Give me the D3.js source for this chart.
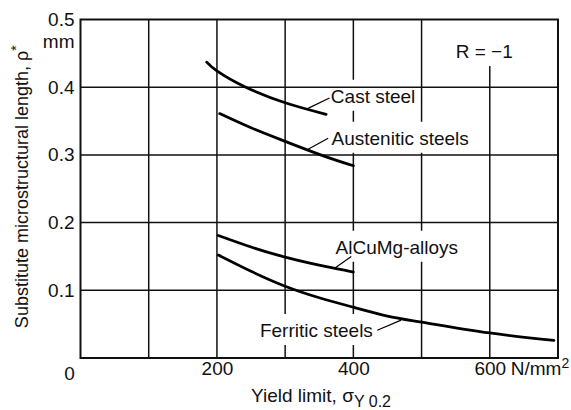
<!DOCTYPE html>
<html>
<head>
<meta charset="utf-8">
<script src="https://cdn.jsdelivr.net/npm/d3@7"></script>
<style>
body{margin:0;background:#fff}
svg{display:block}
text{font-family:"Liberation Sans",Arial,Helvetica,sans-serif;fill:#111}
</style>
</head>
<body>
<svg id="chart" width="571" height="410"></svg>
<script>
// values (x in N/mm², y in mm)
const xTicks=[200,400,600]
const yTicks=[0.1,0.2,0.3,0.4,0.5]
const xGrid=[100,200,300,400,500,600]
const yGrid=[0.1,0.2,0.3,0.4]

const castSteel=[[185,0.437],[200,0.424],[240,0.401],[300,0.377],[360,0.360]]
const austenitic=[[204,0.361],[250,0.340],[300,0.320],[355,0.299],[400,0.284]]
const alcumg=[[202,0.181],[250,0.164],[300,0.149],[355,0.136],[400,0.127]]
const ferritic=[[202,0.152],[250,0.128],[300,0.106],[350,0.089],[400,0.075],[450,0.062],[500,0.053],[600,0.037],[694,0.026]]

const series=[castSteel,austenitic,alcumg,ferritic]
const names=["Cast steel","Austenitic steels","AlCuMg-alloys","Ferritic steels"]
const labelAt=[[367,0.377],[368,0.315],[374,0.154],[263,0.031]]
const leaders=[
[[332,0.368],[365,0.384]],
[[331,0.307],[363,0.3245]],
[[373,0.133],[397,0.150]],
[[435,0.041],[470,0.056]]
]

let svg=d3.select("#chart")
let x=d3.scaleLinear().domain([0,700]).range([80.5,558])
let y=d3.scaleLinear().domain([0,0.5]).range([358,19.5])

let grid=svg.append("g")
let masks=svg.append("g")
let hgrid=svg.append("g")
let marks=svg.append("g")
let texts=svg.append("g")

// vertical grid (gets gaps behind labels)
grid.selectAll("line").data(xGrid).enter().append("line")
.attr("x1",d=>x(d)).attr("x2",d=>x(d))
.attr("y1",y(0.5)).attr("y2",y(0))
.attr("stroke","#111").attr("stroke-width",1.5)

hgrid.selectAll("line").data(yGrid).enter().append("line")
.attr("x1",x(0)).attr("x2",x(700))
.attr("y1",d=>y(d)).attr("y2",d=>y(d))
.attr("stroke","#111").attr("stroke-width",1.5)

hgrid.append("rect")
.attr("x",x(0)).attr("y",y(0.5))
.attr("width",x(700)-x(0)).attr("height",y(0)-y(0.5))
.attr("fill","none").attr("stroke","#111").attr("stroke-width",2)

// axes
let yAxis=svg.append("g")
.attr("transform","translate("+x(0)+",0)")
.call(d3.axisLeft(y).tickValues(yTicks).tickSize(0).tickPadding(6).tickFormat(d3.format(".1f")))
yAxis.select(".domain").remove()
yAxis.selectAll("text").attr("font-size",19).attr("font-family",null)

let xAxis=svg.append("g")
.attr("transform","translate(0,"+y(0)+")")
.call(d3.axisBottom(x).tickValues(xTicks).tickSize(0).tickPadding(4))
xAxis.select(".domain").remove()
xAxis.selectAll("text").attr("font-size",19).attr("font-family",null)

texts.append("text").attr("x",x(0)-11).attr("y",y(0)+22)
.attr("text-anchor","middle").attr("font-size",19).text("0")

texts.append("text").attr("x",x(0)-6).attr("y",48)
.attr("text-anchor","end").attr("font-size",19).text("mm")

let unit=texts.append("text").attr("x",x(600)+21).attr("y",y(0)+17)
.attr("font-size",19)
unit.append("tspan").text("N/mm")
unit.append("tspan").attr("dy",-7).attr("font-size",14).text("2")

let xt=texts.append("text").attr("x",x(250)).attr("y",402).attr("font-size",19)
xt.append("tspan").text("Yield limit, σ")
xt.append("tspan").attr("dy",5).attr("font-size",16).text("Y 0.2")

let yt=texts.append("text")
.attr("transform","translate(28,"+y(0.253)+") rotate(-90)")
.attr("text-anchor","middle").attr("font-size",18)
yt.append("tspan").text("Substitute microstructural length, ρ")
yt.append("tspan").attr("dy",-7).attr("font-size",14).text("*")

// curves
let line=d3.line().x(d=>x(d[0])).y(d=>y(d[1])).curve(d3.curveNatural)
marks.selectAll("path.curve").data(series).enter().append("path")
.attr("class","curve")
.attr("d",line)
.attr("fill","none").attr("stroke","#000").attr("stroke-width",2.8)
.attr("stroke-linecap","round")

marks.selectAll("line.leader").data(leaders).enter().append("line")
.attr("class","leader")
.attr("x1",d=>x(d[0][0])).attr("y1",d=>y(d[0][1]))
.attr("x2",d=>x(d[1][0])).attr("y2",d=>y(d[1][1]))
.attr("stroke","#000").attr("stroke-width",1.2)

// labels with white boxes cutting the grid
function label(txt,px,py,toTop){
let t=texts.append("text").attr("x",px).attr("y",py).attr("font-size",19).text(txt)
let b=t.node().getBBox()
let top=toTop?y(0.5):b.y-6
masks.append("rect")
.attr("x",b.x-2).attr("y",top)
.attr("width",b.width+4).attr("height",b.y+b.height+4-top)
.attr("fill","#fff")
}
names.forEach((n,i)=>label(n,x(labelAt[i][0]),y(labelAt[i][1])))
label("R = −1",x(550),y(0.443),true)
</script>
</body>
</html>
